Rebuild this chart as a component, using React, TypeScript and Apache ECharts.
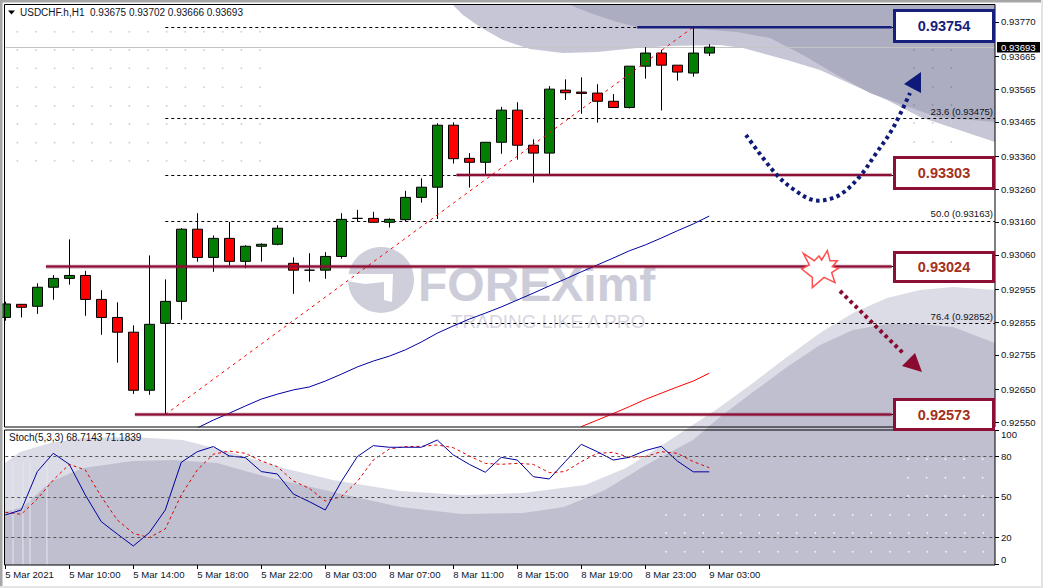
import React, { useEffect, useRef } from "react";
import * as echarts from "echarts";

// [open, close, low, high] per hourly bar
const candleOHLC: number[][] = [
  [0.92869,0.92910,0.92859,0.92917],[0.92909,0.92900,0.92869,0.92909],[0.92903,0.92961,0.92880,0.92973],
  [0.92961,0.92988,0.92923,0.92998],[0.92988,0.92997,0.92969,0.93107],[0.92997,0.92924,0.92874,0.93011],
  [0.92924,0.92869,0.92816,0.92952],[0.92869,0.92824,0.92731,0.92915],[0.92824,0.92647,0.92636,0.92845],
  [0.92647,0.92848,0.92633,0.93058],[0.92851,0.92918,0.92573,0.92985],[0.92918,0.93138,0.92862,0.93141],
  [0.93138,0.93052,0.93039,0.93187],[0.93052,0.93110,0.93008,0.93119],[0.93110,0.93040,0.93027,0.93160],
  [0.93040,0.93086,0.93019,0.93089],[0.93086,0.93092,0.93039,0.93095],[0.93092,0.93141,0.93089,0.93150],
  [0.93034,0.93013,0.92941,0.93052],[0.93013,0.93013,0.92978,0.93065],[0.93013,0.93055,0.92987,0.93068],
  [0.93055,0.93168,0.93048,0.93187],[0.93171,0.93171,0.93161,0.93197],[0.93171,0.93159,0.93159,0.93191],
  [0.93159,0.93168,0.93143,0.93171],[0.93167,0.93235,0.93162,0.93255],[0.93235,0.93266,0.93219,0.93293],
  [0.93266,0.93455,0.93169,0.93461],[0.93455,0.93353,0.93338,0.93464],[0.93354,0.93342,0.93265,0.93370],
  [0.93342,0.93403,0.93302,0.93403],[0.93403,0.93501,0.93368,0.93511],[0.93501,0.93394,0.93350,0.93525],
  [0.93394,0.93370,0.93280,0.93412],[0.93370,0.93565,0.93306,0.93574],[0.93562,0.93554,0.93532,0.93595],
  [0.93556,0.93552,0.93490,0.93601],[0.93553,0.93528,0.93463,0.93580],[0.93528,0.93509,0.93509,0.93550],
  [0.93509,0.93635,0.93506,0.93635],[0.93635,0.93675,0.93597,0.93693],[0.93675,0.93638,0.93500,0.93685],
  [0.93638,0.93617,0.93591,0.93638],[0.93614,0.93675,0.93603,0.93754],[0.93675,0.93693,0.93666,0.93702],
];

const blueMAStart = 12;
const blueMA = [0.92532,0.92556,0.92577,0.92599,0.92620,0.92635,0.92648,0.92657,0.92675,0.92696,0.92718,0.92736,0.92751,0.92770,0.92794,0.92821,0.92843,0.92864,0.92882,0.92901,0.92922,0.92943,0.92965,0.92986,0.93008,0.93029,0.93050,0.93072,0.93090,0.93111,0.93133,0.93154,0.93178];
const redMAStart = 36;
const redMA = [0.92536,0.92556,0.92576,0.92597,0.92619,0.92638,0.92657,0.92675,0.92699];

const stochK = [36.6,40.3,68.9,82.5,74.3,51.5,31.6,22.4,13.5,23.4,40.3,75.8,83.7,87.5,80.5,79.3,68.9,67.1,52.2,46.5,40.3,61.4,80,88.2,87,87,87,92.4,81.3,74.3,68.4,79.5,77.5,65.1,63.4,76.3,89.2,83.7,77.5,79.5,84.5,87.7,76.8,68.7,68.7];
const stochD = [38.6,37.1,48.5,62.6,74.3,70.1,50.2,32.9,22.9,19.7,26.2,51.5,70.1,81.8,84.2,82.5,76.8,72.6,61.9,56.4,47,50.2,61.4,77.5,85.7,87.5,87.7,88.7,86.7,80.5,75,74.3,75,74.3,68.1,68.9,76.3,82.5,83.2,79.5,80,83.7,82.5,76.3,71.8];
const stochTicks = [0, 20, 50, 80, 100];
const stochLevels = [20, 50, 80];

const priceTicks = [0.9377,0.93665,0.93565,0.93465,0.9336,0.9326,0.9316,0.9306,0.92955,0.92855,0.92755,0.9265,0.9255];
const currentPrice = 0.93693;

const timeLabels = ["5 Mar 2021","5 Mar 10:00","5 Mar 14:00","5 Mar 18:00","5 Mar 22:00","8 Mar 03:00","8 Mar 07:00","8 Mar 11:00","8 Mar 15:00","8 Mar 19:00","8 Mar 23:00","9 Mar 03:00"];
const timeLabelStep = 4;

const fibPrices = [0.93754, 0.93475, 0.93303, 0.93163, 0.93024, 0.92852, 0.92573];
const fibLabels = ["", "23.6 (0.93475)", "", "50.0 (0.93163)", "", "76.4 (0.92852)", ""];
const fibStartBar = 10;
const fibEndBar = 43;

const levelPrices = [0.93754, 0.93303, 0.93024, 0.92573];
const levelLabels = ["0.93754", "0.93303", "0.93024", "0.92573"];
const levelStartBars = [39.5, 28.2, 2.54, 8.1];

const FONT = "'Liberation Sans', sans-serif";
const BLUE = "#16207c";
const WINE = "#8c0f35";
const TEXT = "#10141e";
const X_MAX = 61.86;
const LEVEL_END_BAR = 55.4;
const FS = 9.6;

const pts = (...a: number[]) => {
  const r: number[][] = [];
  for (let i = 0; i < a.length; i += 2) r.push([a[i], a[i + 1]]);
  return r;
};

function backdrop(): any[] {
  const els: any[] = [];
  const poly = (points: number[][], fill: string, z: number) =>
    els.push({ type: "polygon", silent: true, z, shape: { points }, style: { fill } });
  poly(pts(453,5,463,15,480,27,503,40,530,49,563,53,597,52,637,48,670,46,720,45,743,48,787,60,820,70,853,85,887,100,920,117,953,128,995,142,995,5), "#c6c6d6", -20);
  poly(pts(570,5,590,13,617,22,637,27,687,28,737,32,770,38,803,55,837,75,870,93,903,105,937,117,995,122,995,5), "#adadc2", -19);
  poly(pts(5,463,20,452,50,443,83,438,133,437,183,440,233,453,283,468,333,480,400,491,462,495,523,493,585,485,626,468,670,440,720,407,753,383,787,357,820,333,853,313,887,298,920,290,953,287,995,290,995,565,5,565), "#dcdce6", -20);
  poly(pts(5,512,23,507,50,482,83,468,133,461,173,460,217,463,267,477,333,492,400,507,462,514,523,513,564,507,605,490,646,465,693,440,720,417,753,392,787,367,820,345,853,330,887,324,920,324,953,327,995,343,995,565,5,565), "#bfbfcf", -19);

  for (const x of [13, 23, 30, 47]) {
    els.push({ type: "line", silent: true, z: -18, shape: { x1: x, y1: 462, x2: x, y2: 565 }, style: { stroke: "#e6e6ee", lineWidth: 1 } });
  }

  const dot = (x: number, y: number, fill: string) =>
    els.push({ type: "circle", silent: true, z: -17, shape: { cx: x, cy: y, r: 0.9 }, style: { fill } });
  for (const y of [31.7, 50, 68.3, 87.3, 106, 124, 142.7, 160.7])
    for (let i = 0; i < 14; i++) dot(17.3 + i * 18.67, y, "#cfcfdc");
  for (const y of [50, 68, 87, 105]) for (let i = 0; i < 3; i++) dot(914 + i * 18.67, y, "#8e8ea6");
  for (const y of [123, 142]) for (let i = 0; i < 3; i++) dot(914 + i * 18.67, y, "#cfcfd8");
  for (const y of [459, 477.7, 496]) for (let i = 0; i < 5; i++) dot(908 + i * 18.67, y, "#f2f2f6");
  for (const y of [515, 533, 551.7]) for (let i = 0; i < 18; i++) dot(666 + i * 18.67, y, "#f2f2f6");

  // FOREXimf watermark
  els.push({ type: "circle", silent: true, z: -16, shape: { cx: 381, cy: 280, r: 33 }, style: { fill: "#cfcfdc" } });
  els.push({ type: "polygon", silent: true, z: -15, shape: { points: pts(346,274,393,274,392,302,384,300,384,282,365,284,346,281) }, style: { fill: "#ffffff" } });
  els.push({ type: "text", silent: true, z: -16, x: 418, y: 260, style: { text: "FOREXimf", font: "bold 48px 'Liberation Sans'", fill: "#cdcdda", textVerticalAlign: "top" } });
  els.push({ type: "text", silent: true, z: -16, x: 451, y: 312, style: { text: "TRADING LIKE A PRO", font: "19px 'Liberation Sans'", fill: "#d6d6e0", textVerticalAlign: "top" } });

  // box behind the current-price axis label
  els.push({ type: "rect", silent: true, z: -1, shape: { x: 997, y: 42, width: 43, height: 10.5 }, style: { fill: "#000" } });

  // window chrome
  els.push({ type: "rect", silent: true, z: 40, shape: { x: 0, y: 0, width: 1043, height: 2.5 }, style: { fill: "#a6a6a6" } });
  els.push({ type: "rect", silent: true, z: 40, shape: { x: 0, y: 0, width: 2.5, height: 588 }, style: { fill: "#a6a6a6" } });
  els.push({ type: "rect", silent: true, z: 40, shape: { x: 0, y: 586, width: 1043, height: 2 }, style: { fill: "#e4e4e4" } });
  els.push({ type: "rect", silent: true, z: 40, shape: { x: 1041, y: 0, width: 2, height: 588 }, style: { fill: "#e4e4e4" } });
  // panel frames
  for (const r of [[4.5, 4.5, 990.5, 422.5], [4.5, 430, 990.5, 135]]) {
    els.push({ type: "rect", silent: true, z: 30, shape: { x: r[0], y: r[1], width: r[2], height: r[3] }, style: { fill: "none", stroke: "#000", lineWidth: 1 } });
  }
  return els;
}

function annotations(): any[] {
  const els: any[] = [];
  // header
  els.push({ type: "polygon", silent: true, z: 50, shape: { points: pts(8,10.5,15,10.5,11.5,14.5) }, style: { fill: "#000" } });
  els.push({ type: "text", silent: true, z: 50, x: 20, y: 12.5, style: { text: "USDCHF.h,H1  0.93675 0.93702 0.93666 0.93693", font: `10px ${FONT}`, fill: TEXT, textVerticalAlign: "middle" } });
  els.push({ type: "text", silent: true, z: 50, x: 9, y: 437.5, style: { text: "Stoch(5,3,3) 68.7143 71.1839", font: `10px ${FONT}`, fill: TEXT, textVerticalAlign: "middle" } });

  // value boxes
  const boxes = [[10.5, 31], [157.5, 31], [252.5, 29], [399.5, 30]];
  boxes.forEach((b, i) => {
    const c = i === 0 ? BLUE : WINE;
    els.push({ type: "rect", silent: true, z: 60, shape: { x: 894.5, y: b[0], width: 99, height: b[1] }, style: { fill: "#fff", stroke: c, lineWidth: 3 } });
    els.push({ type: "text", silent: true, z: 61, x: 944, y: b[0] + b[1] / 2, style: { text: levelLabels[i], font: "bold 14.5px 'Liberation Sans'", fill: i === 0 ? BLUE : "#a5301a", textAlign: "center", textVerticalAlign: "middle" } });
  });

  // dotted forecast arrows
  els.push({ type: "polyline", silent: true, z: 55, shape: { smooth: 0.35, points: pts(746,135,775,173,793,189,813,200,830,199,844,192,861,175,875,155,893,128,910,93) }, style: { stroke: "#0e1a78", lineWidth: 4, lineDash: [3.5, 3.5], fill: "none" } });
  els.push({ type: "polygon", silent: true, z: 55, shape: { points: pts(921,72,904,84,921,93) }, style: { fill: "#0e1a78" } });
  els.push({ type: "polyline", silent: true, z: 55, shape: { points: pts(840,291,903,353) }, style: { stroke: "#8a0a30", lineWidth: 4, lineDash: [3.5, 3.5], fill: "none" } });
  els.push({ type: "polygon", silent: true, z: 55, shape: { points: pts(915,353,902,366,922,372) }, style: { fill: "#8a0a30" } });

  // burst marker
  const burst = [[550,100],[583,122],[597,108],[605,120],[622,92],[630,122],[652,122],[637,140],[655,145],[635,158],[645,188],[612,172],[577,203],[577,172],[545,147],[568,135]]
    .map(([x, y]) => [620 + x / 3, 220 + y / 3]);
  els.push({ type: "polygon", silent: true, z: 56, shape: { points: burst }, style: { fill: "#fff", stroke: "#ff4d4d", lineWidth: 1.5 } });
  return els;
}

export default function App() {
  const ref = useRef<HTMLDivElement>(null);
  useEffect(() => {
    document.body.style.margin = "0";
    document.body.style.background = "#fff";
    const chart = echarts.init(ref.current!, undefined, { renderer: "svg" });

    const bars = candleOHLC.map((r, i) => [i, r[0], r[1], r[2], r[3]]);
    const series: any[] = [];

    // Fibonacci levels and current-price line, behind the candles
    series.push({
      type: "line", xAxisIndex: 0, yAxisIndex: 0, data: [], z: 1, silent: true,
      markLine: {
        silent: true, symbol: "none", z: 1, animation: false,
        data: [
          ...fibPrices.map((p, i) => [
            {
              coord: [fibStartBar, p],
              lineStyle: { color: "#000", type: [3, 3], width: 1 },
              label: { show: !!fibLabels[i], formatter: fibLabels[i], position: "insideEndTop", distance: 1, color: TEXT, fontFamily: FONT, fontSize: FS, padding: [0, 1, 1, 0] },
            },
            { coord: [X_MAX, p] },
          ]),
          [
            { coord: [0, currentPrice], lineStyle: { color: "#c4c4c4", type: "solid", width: 1 }, label: { show: false } },
            { coord: [X_MAX, currentPrice] },
          ],
        ],
      },
    });

    series.push({
      type: "candlestick", xAxisIndex: 0, yAxisIndex: 0, data: bars, barWidth: 10, z: 2,
      itemStyle: { color: "#047d04", color0: "#ff0000", borderColor: "#000", borderColor0: "#000", borderColorDoji: "#000", borderWidth: 1 },
    });

    series.push({ type: "line", xAxisIndex: 0, yAxisIndex: 0, z: 3, showSymbol: false, symbol: "none", data: blueMA.map((v, i) => [i + blueMAStart, v]), lineStyle: { color: "#0000a0", width: 1 } });
    series.push({ type: "line", xAxisIndex: 0, yAxisIndex: 0, z: 3, showSymbol: false, symbol: "none", data: redMA.map((v, i) => [i + redMAStart, v]), lineStyle: { color: "#ff0000", width: 1 } });
    series.push({ type: "line", xAxisIndex: 0, yAxisIndex: 0, z: 3, showSymbol: false, symbol: "none", data: [[fibStartBar, fibPrices[6]], [fibEndBar, fibPrices[0]]], lineStyle: { color: "#ff0000", width: 1, type: [3, 4] } });

    levelPrices.forEach((p, i) => {
      const data = [[levelStartBars[i], p], [LEVEL_END_BAR, p]];
      if (i > 0) series.push({ type: "line", xAxisIndex: 0, yAxisIndex: 0, z: 4, showSymbol: false, symbol: "none", data, lineStyle: { color: "rgba(140,15,53,0.45)", width: 3.6 } });
      series.push({ type: "line", xAxisIndex: 0, yAxisIndex: 0, z: 5, showSymbol: false, symbol: "none", data, lineStyle: { color: i === 0 ? BLUE : WINE, width: i === 0 ? 2.5 : 2 } });
    });

    series.push({
      type: "line", xAxisIndex: 1, yAxisIndex: 1, z: 3, showSymbol: false, symbol: "none",
      data: stochD.map((v, i) => [i, v]), lineStyle: { color: "#e00000", width: 1, type: [3, 3] },
      markLine: {
        silent: true, symbol: "none", animation: false, label: { show: false },
        lineStyle: { color: "#555", type: [3, 3], width: 1 },
        data: stochLevels.map((v) => ({ yAxis: v })),
      },
    });
    series.push({ type: "line", xAxisIndex: 1, yAxisIndex: 1, z: 4, showSymbol: false, symbol: "none", data: stochK.map((v, i) => [i, v]), lineStyle: { color: "#0000a0", width: 1 } });

    chart.setOption({
      animation: false,
      backgroundColor: "#fff",
      tooltip: { show: false },
      grid: [
        { left: 5.3, top: 4.5, width: 989.7, height: 422.5 },
        { left: 5.3, top: 429.8, width: 989.7, height: 135.2 },
      ],
      xAxis: [
        { type: "value", gridIndex: 0, min: 0, max: X_MAX, show: false, splitLine: { show: false } },
        {
          type: "value", gridIndex: 1, min: 0, max: X_MAX, splitLine: { show: false },
          axisLine: { show: false, onZero: false },
          axisTick: { show: true, length: 4, customValues: timeLabels.map((_, i) => i * timeLabelStep), lineStyle: { color: "#000" } },
          axisLabel: {
            customValues: timeLabels.map((_, i) => i * timeLabelStep),
            formatter: (v: number) => timeLabels[Math.round(v / timeLabelStep)] ?? "",
            align: "left", margin: 4, color: TEXT, fontFamily: FONT, fontSize: FS, hideOverlap: false,
          },
        },
      ],
      yAxis: [
        {
          type: "value", gridIndex: 0, position: "right", min: 0.92535, max: 0.93823, splitLine: { show: false },
          axisLine: { show: false, onZero: false },
          axisTick: { show: true, length: 4, customValues: priceTicks, lineStyle: { color: "#000" } },
          axisLabel: {
            customValues: [...priceTicks, currentPrice],
            margin: 6, color: TEXT, fontFamily: FONT, fontSize: FS, align: "left",
            formatter: (v: number) => (v === currentPrice ? `{cur|${v.toFixed(5)}}` : v.toFixed(5)),
            rich: { cur: { color: "#fff", fontFamily: FONT, fontSize: FS } },
          },
        },
        {
          type: "value", gridIndex: 1, position: "right", min: -0.67, max: 100, splitLine: { show: false },
          axisLine: { show: false, onZero: false },
          axisTick: { show: true, length: 4, customValues: stochTicks, lineStyle: { color: "#000" } },
          axisLabel: { customValues: stochTicks, margin: 6, color: TEXT, fontFamily: FONT, fontSize: FS, align: "left", verticalAlignMinLabel: "bottom", verticalAlignMaxLabel: "top" },
        },
      ],
      series,
      graphic: { elements: [...backdrop(), ...annotations()] },
    });
    return () => chart.dispose();
  }, []);
  return <div ref={ref} style={{ position: "absolute", left: 0, top: 0, width: 1043, height: 588 }} />;
}
